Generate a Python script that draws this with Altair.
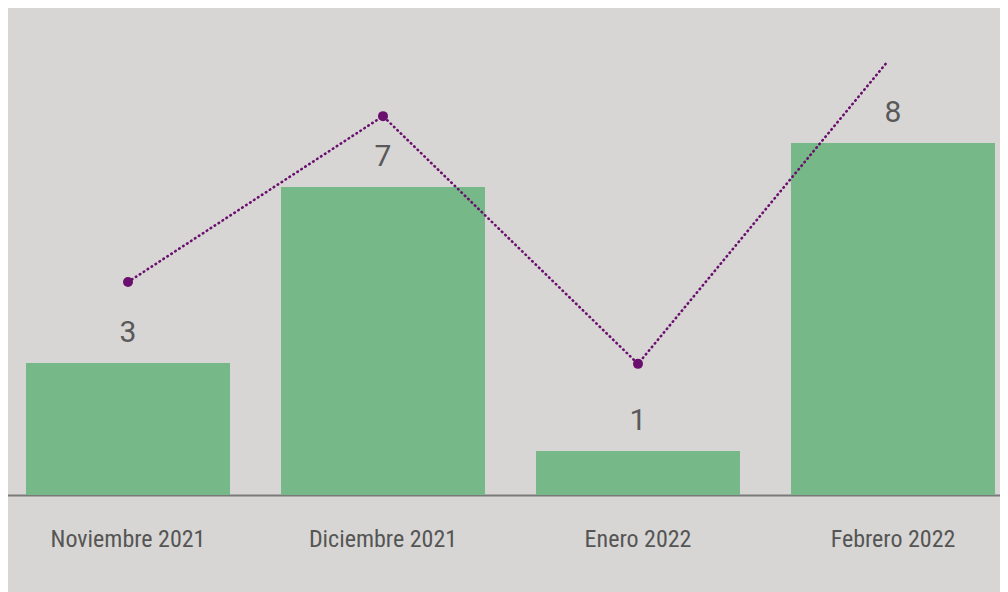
import altair as alt
import pandas as pd

months = ["Noviembre 2021", "Diciembre 2021", "Enero 2022", "Febrero 2022"]
bar_values = [3, 7, 1, 8]
line_values = [4.84, 8.61, 2.98, 10.0]

df = pd.DataFrame({"mes": months, "valor": bar_values, "linea": line_values})

x = alt.X("mes:N", sort=months, title=None,
          scale=alt.Scale(paddingInner=0.2, paddingOuter=0.1, range=[-7.5, 1012.5]),
          axis=alt.Axis(labelAngle=0,
                        labelFont="'Roboto Condensed', 'DejaVu Sans Condensed', 'Liberation Sans Narrow', Roboto, sans-serif",
                        labelFontSize=24,
                        labelColor="#555555", labelPadding=32, ticks=False,
                        domainColor="#7a7a7a", domainWidth=2, grid=False))
y_scale = alt.Scale(domain=[0, 9.84], nice=False)
y = alt.Y("valor:Q", scale=y_scale, axis=None)

base = alt.Chart(df)

bars = base.mark_bar(color="#76b887").encode(x=x, y=y)
labels = base.mark_text(baseline="bottom", dy=-15, font="Roboto", fontSize=30,
                        color="#595959").encode(x=x, y=y, text="valor:Q")
line = base.mark_line(color="#6b0f6f", strokeWidth=2.6, strokeDash=[0.5, 4.2],
                      strokeCap="round", clip=True).encode(
    x=x, y=alt.Y("linea:Q", scale=y_scale, axis=None))
points = base.mark_point(color="#6b0f6f", filled=True, size=100, opacity=1, clip=True).encode(
    x=x, y=alt.Y("linea:Q", scale=y_scale, axis=None))

chart = alt.layer(bars, labels, line, points).properties(
    width=992, height=433,
    autosize=alt.AutoSizeParams(type="none"),
    padding={"left": 0, "top": 54, "right": 0, "bottom": 97},
    background="#d7d6d4",
).configure_view(stroke=None)

chart.save("out.html", embed_options={"renderer": "svg", "actions": False})
